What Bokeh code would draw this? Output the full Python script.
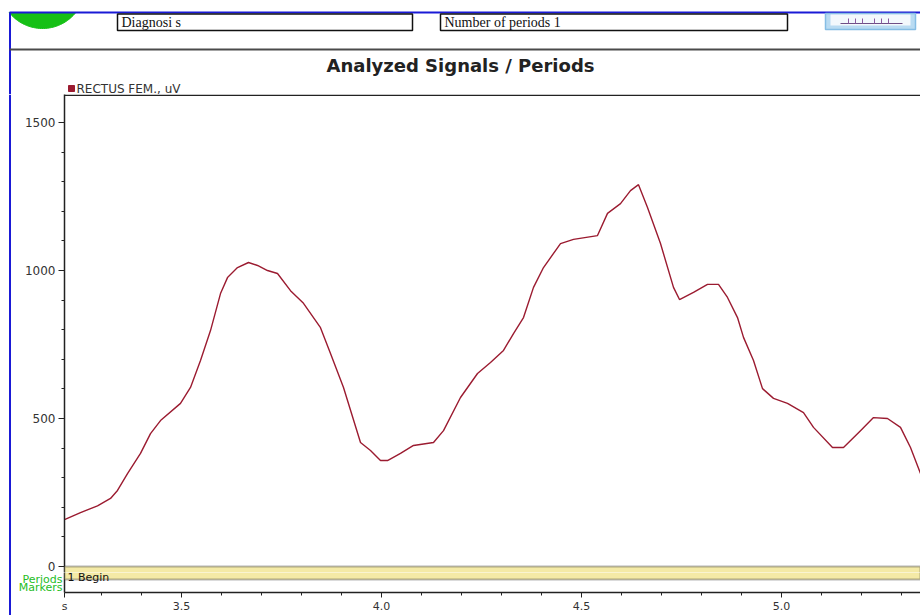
import numpy as np
from bokeh.plotting import figure
from bokeh.layouts import column, row
from bokeh.models import (FixedTicker, BoxAnnotation, Label, Range1d, Span,
                          PrintfTickFormatter)
from bokeh.embed import file_html
from bokeh.resources import INLINE
from bokeh.core.properties import value

# RECTUS FEM. envelope, time in seconds and amplitude in microvolts
time_s = [3.2075, 3.2475, 3.29, 3.3225, 3.34, 3.365, 3.3975, 3.4225, 3.4475, 3.4975,
          3.5225, 3.5475, 3.5725, 3.5975, 3.615, 3.64, 3.6675, 3.69, 3.715,
          3.74, 3.7725, 3.805, 3.8475, 3.8725, 3.905, 3.9475, 3.9725, 3.9975,
          4.015, 4.0475, 4.08, 4.13, 4.155, 4.1975, 4.24, 4.2725, 4.305, 4.33,
          4.355, 4.38, 4.405, 4.4475, 4.48, 4.54, 4.565, 4.5975, 4.6225, 4.6425,
          4.665, 4.6975, 4.73, 4.745, 4.78, 4.815, 4.8425, 4.865, 4.89, 4.905,
          4.93, 4.9525, 4.98, 5.015, 5.055, 5.08, 5.1275, 5.155, 5.1975, 5.23,
          5.265, 5.2975, 5.3225, 5.3475]
rectus_fem_uv = [158, 182, 205, 230, 257, 314, 382, 449, 493, 551,
                 605, 696, 797, 922, 976, 1010, 1027, 1017, 1000,
                 990, 932, 889, 807, 720, 605, 419, 392, 358,
                 358, 382, 409, 419, 459, 571, 652, 689, 730, 787,
                 841, 943, 1010, 1091, 1105, 1118, 1193, 1226, 1270, 1290,
                 1213, 1091, 943, 902, 926, 953, 953, 909, 841, 774,
                 696, 601, 568, 551, 520, 470, 402, 402, 459, 503,
                 500, 470, 402, 314]

series_name = "RECTUS FEM., uV"
y_ticks = [0, 500, 1000, 1500]
y_minor = [100, 200, 300, 400, 600, 700, 800, 900, 1100, 1200, 1300, 1400]
x_ticks = [3.5, 4.0, 4.5, 5.0]
x_minor = [3.3, 3.4, 3.6, 3.7, 3.8, 3.9, 4.1, 4.2, 4.3, 4.4, 4.6, 4.7, 4.8,
           4.9, 5.1, 5.2, 5.3]
period_names = ["1  Begin"]
row_titles = {-35.5: "Periods", -71: "Markers"}
period_band = [0, -44]  # top, bottom of the period strip (uV axis units)

X_START, X_END = 3.2075, 5.3475
Y_SPLIT = -20.27       # boundary between the signal panel and the period panel
Y_TOP, Y_BOTTOM = 1594.6, -87.84

LINE_RED = "#9b1b30"
BLUE = "#1a1ad6"
GREEN_TXT = "#26bd26"
AXIS_CLR = "#222222"
LABEL_CLR = "#333333"
SANS = value("DejaVu Sans")


def bare(fig):
    for g in fig.grid:
        g.visible = False
    return fig


# ---------- header strip (page chrome, pixel space) ----------
head = bare(figure(width=920, height=94, x_range=Range1d(0, 920), y_range=Range1d(94, 0),
                   min_border=0, toolbar_location=None, output_backend="svg",
                   x_axis_location=None, y_axis_location=None, outline_line_color=None))

# green status lamp, cut by the top border
cx, cy, r = 42.0, -14.7, 42.7
th = np.linspace(np.arcsin((12 - cy) / r), np.pi - np.arcsin((12 - cy) / r), 40)
head.patch(list(cx + r * np.cos(th)), list(cy + r * np.sin(th)),
           fill_color="#16c016", line_color="#16c016")

head.segment(x0=[9, 9.5], y0=[12, 12], x1=[920, 9.5], y1=[12, 94],
             line_color=BLUE, line_width=2)
head.segment(x0=[9], y0=[49], x1=[920], y1=[49], line_color="#4a4a4a", line_width=2)

head.quad(left=[117, 440], right=[412, 787], top=[13.5, 13.5], bottom=[30, 30],
          fill_color="white", line_color="#111111", line_width=1.5)
head.text(x=[121, 444], y=[22, 22], text=["Diagnosi s", "Number of periods  1"],
          text_font=value("Liberation Serif"), text_font_size="14px",
          text_baseline="middle", text_color="#111111")

# small toolbar button
head.quad(left=[825], right=[915], top=[13], bottom=[29],
          fill_color="#b9dbf2", line_color="#86bde4", line_width=1.5)
head.quad(left=[830], right=[910], top=[14], bottom=[25],
          fill_color="#f3f8fc", line_color=None)
head.segment(x0=[840], y0=[23], x1=[902], y1=[23], line_color="#6e4f86", line_width=1)
head.segment(x0=[848, 855, 862, 874, 881, 888], y0=[18] * 6,
             x1=[848, 855, 862, 874, 881, 888], y1=[23] * 6,
             line_color="#8a5aa0", line_width=1)

head.text(x=[460], y=[65], text=["Analyzed Signals / Periods"],
          text_font=SANS, text_font_style="bold", text_font_size="18px",
          text_align="center", text_baseline="middle", text_color="#222222")

head.scatter(x=[71], y=[88], marker="square", size=6, fill_color=LINE_RED,
             line_color=LINE_RED)
head.text(x=[76], y=[88], text=[series_name], text_font=SANS, text_font_size="12px",
          text_baseline="middle", text_color=LABEL_CLR)

# ---------- left border strip ----------
strip = bare(figure(width=11, height=521, x_range=Range1d(0, 11), y_range=Range1d(521, 0),
                    min_border=0, toolbar_location=None, output_backend="svg",
                    x_axis_location=None, y_axis_location=None, outline_line_color=None))
strip.segment(x0=[9.5], y0=[0], x1=[9.5], y1=[521], line_color=BLUE, line_width=2)


def style_axis(ax, tick_out=6, minor_out=3, standoff=3, size="12px"):
    ax.major_tick_out = tick_out
    ax.major_tick_in = 0
    ax.minor_tick_out = minor_out
    ax.minor_tick_in = 0
    ax.axis_line_color = AXIS_CLR
    ax.axis_line_width = 1.5
    ax.major_tick_line_color = AXIS_CLR
    ax.minor_tick_line_color = AXIS_CLR
    ax.major_label_text_font = "DejaVu Sans"
    ax.major_label_text_font_size = size
    ax.major_label_text_line_height = 1.0
    ax.major_label_text_color = LABEL_CLR
    ax.major_label_standoff = standoff


x_range = Range1d(X_START, X_END)

# ---------- signal panel ----------
p = bare(figure(width=909, height=478, x_range=x_range, y_range=Range1d(Y_SPLIT, Y_TOP),
                min_border_left=53, min_border_right=0, min_border_top=0, min_border_bottom=0,
                x_axis_location=None, toolbar_location=None, output_backend="svg",
                outline_line_color=None))
p.yaxis.ticker = FixedTicker(ticks=y_ticks, minor_ticks=y_minor)
style_axis(p.yaxis[0])
p.add_layout(Span(location=Y_TOP - 2.5, dimension="width", line_color=AXIS_CLR,
                  line_width=1.5))
p.add_layout(BoxAnnotation(top=period_band[0], bottom=period_band[1],
                           fill_color="#f4eaa6", fill_alpha=1.0,
                           line_color="#111111", line_width=2))
p.line(time_s, rectus_fem_uv, line_color=LINE_RED, line_width=1.4)

# ---------- period / marker panel with the time axis ----------
q = bare(figure(width=909, height=43, x_range=x_range, y_range=Range1d(Y_BOTTOM, Y_SPLIT),
                min_border_left=53, min_border_right=0, min_border_top=0, min_border_bottom=23,
                toolbar_location=None, output_backend="svg", outline_line_color=None))
q.add_layout(BoxAnnotation(top=period_band[0], bottom=period_band[1],
                           fill_color="#f4eaa6", fill_alpha=1.0,
                           line_color="#111111", line_width=2))
q.add_layout(Label(x=X_START, y=-35.5, x_offset=3, text=period_names[0],
                   text_font="DejaVu Sans", text_font_size="11px",
                   text_baseline="middle", text_color="#111111"))

q.xaxis.ticker = FixedTicker(ticks=[X_START] + x_ticks, minor_ticks=x_minor)
q.xaxis.formatter = PrintfTickFormatter(format="%.1f")
q.xaxis.major_label_overrides = {X_START: "s"}
style_axis(q.xaxis[0], tick_out=5, standoff=2, size="11px")

q.yaxis.ticker = FixedTicker(ticks=list(row_titles.keys()), minor_ticks=[])
q.yaxis.major_label_overrides = row_titles
style_axis(q.yaxis[0], tick_out=0, minor_out=0, standoff=2, size="11px")
q.yaxis.major_label_text_color = GREEN_TXT

layout = column(head, row(strip, column(p, q)))
open("out.html", "w").write(file_html(layout, INLINE))
